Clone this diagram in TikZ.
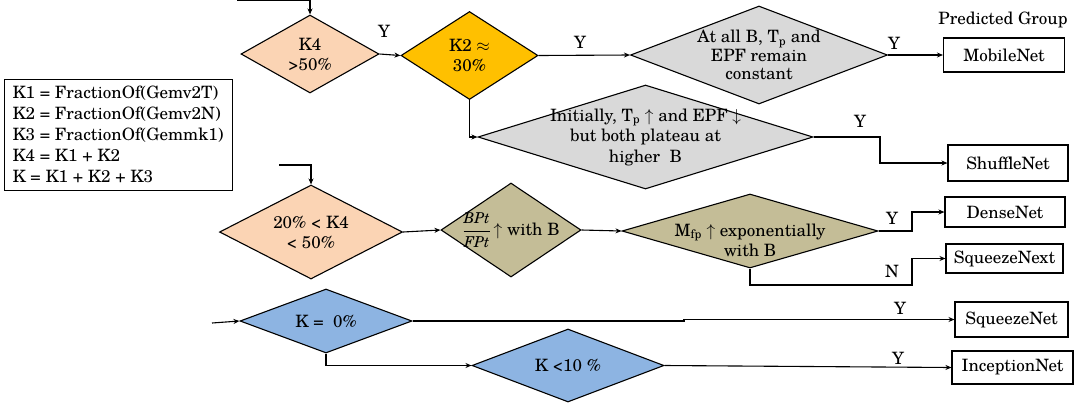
\documentclass[tikz,border=0pt]{standalone}
\usepackage{fontspec}
\setmainfont{TeX Gyre Schola}
\usetikzlibrary{shapes.geometric,arrows.meta}

\definecolor{peach}{HTML}{FBD4B4}
\definecolor{gold}{HTML}{FFC000}
\definecolor{lgray}{HTML}{D9D9D9}
\definecolor{khaki}{HTML}{C4BD97}
\definecolor{lblue}{HTML}{8DB4E2}

% italic piece of the stacked ratio
\newcommand{\fracpart}[1]{\mbox{\fontsize{15}{15}\selectfont\itshape #1}}

\tikzset{
  flow/.style={draw=black, line width=1.1pt, -{Stealth[length=6pt,width=5pt]}},
  dec/.style={diamond, draw=black, line width=1.1pt, inner sep=0pt},
  txt/.style={font=\fontsize{17}{20}\selectfont, align=center, inner sep=0pt},
  outbox/.style={draw=black, rectangle, line width=1.1pt, inner sep=0pt,
                 font=\fontsize{17}{20}\selectfont},
  yl/.style={font=\fontsize{17}{20}\selectfont, inner sep=0pt},
}

\begin{document}
\begin{tikzpicture}[x=1pt,y=-1pt]
\useasboundingbox (0,0) rectangle (1090,408);

% definitions of the kernel fractions
\node[draw=black, line width=0.9pt, minimum width=228pt, minimum height=111pt,
      inner sep=0pt, align=left,
      font=\fontsize{17}{21}\selectfont] (defs) at (118,134.5)
  {K1 = FractionOf(Gemv2T)\\K2 = FractionOf(Gemv2N)\\K3 = FractionOf(Gemmk1)\\K4 = K1 + K2\\K = K1 + K2 + K3};

% column header
\node[yl] (hdr) at (1003,20) {Predicted Group};

% ---------- first branch ----------
\coordinate (in1) at (237,0.8);
\node[dec, fill=peach, minimum width=138pt, minimum height=78pt,
      label={[txt]center:{K4\\>50\%}}] (k4) at (310,54) {};
\node[dec, fill=gold, minimum width=137pt, minimum height=88pt,
      label={[txt]center:{K2 $\approx$\\30\%}}] (k2) at (469.5,55.5) {};
\node[dec, fill=lgray, minimum width=257pt, minimum height=98pt,
      label={[txt, font=\fontsize{17}{18.5}\selectfont]center:{At all B, T\textsubscript{p} and\\EPF remain\\constant}}] (g1) at (759,55) {};
\node[outbox, minimum width=121pt, minimum height=34pt] (mob) at (1004,55) {MobileNet};
\node[dec, fill=lgray, minimum width=335pt, minimum height=104pt,
      label={[txt, font=\fontsize{17}{20.5}\selectfont]center:{Initially, T\textsubscript{p} $\uparrow$ and EPF~$\downarrow$\\but both plateau at\\higher~~B}}] (g2) at (645.5,137) {};
\node[outbox, minimum width=120pt, minimum height=36pt] (shuf) at (1008,163) {ShuffleNet};

\draw[flow] (in1) -| (k4.north);
\draw[flow] (k4.east) -- (k2.west);
\draw[flow] (k2.east) -- (g1.west);
\draw[flow] (g1.east) -- (mob.west);
\draw[flow] (k2.south) |- (g2.west);
\coordinate (b1) at (880,137);
\draw[flow] (g2.east) -- (b1) |- (shuf.west);

\node[yl] (y1) at (384,31) {Y};
\node[yl] (y2) at (580,42) {Y};
\node[yl] (y3) at (894,43) {Y};
\node[yl] (y4) at (860,121) {Y};

% ---------- second branch ----------
\coordinate (in2) at (279,165);
\node[dec, fill=peach, minimum width=183pt, minimum height=94pt,
      label={[txt]center:{20\% < K4\\< 50\%}}] (k4b) at (311,232) {};
\node[dec, fill=khaki, minimum width=140pt, minimum height=94pt,
      label={[txt]center:{$\displaystyle\frac{\fracpart{BPt}}{\fracpart{FPt}}$\,$\uparrow$ with B}}] (bpt) at (511,230) {};
\node[dec, fill=khaki, minimum width=256pt, minimum height=74pt] (mfp) at (750,231) {};
\node[txt] (mfpt) at (750,240) {M\textsubscript{fp} $\uparrow$ exponentially\\with B};
\node[outbox, minimum width=120pt, minimum height=30pt] (dense) at (1005,212) {DenseNet};
\node[outbox, minimum width=117pt, minimum height=29pt] (sqnx) at (1004.5,258.5) {SqueezeNext};

\draw[flow] (in2) -| (k4b.north);
\draw[flow] (k4b.east) -- (bpt.west);
\draw[flow] (bpt.east) -- (mfp.west);
\coordinate (b2) at (912,231);
\draw[flow] (mfp.east) -- (b2) |- (dense.west);
\coordinate (b3) at (750,285);
\coordinate (b4) at (912,285);
\draw[flow] (mfp.south) -- (b3) -- (b4) |- (sqnx.west);

\node[yl] (y5) at (892,218) {Y};
\node[yl] (n1) at (892,271) {N};

% ---------- third branch ----------
\coordinate (in3) at (212,323);
\node[dec, fill=lblue, minimum width=172pt, minimum height=64pt,
      label={[txt]center:{K =\ \ 0\%}}] (k0) at (326,321) {};
\node[dec, fill=lblue, minimum width=192pt, minimum height=73pt,
      label={[txt]center:{K <10 \%}}] (k10) at (568,365.5) {};
\node[outbox, minimum width=113pt, minimum height=35pt] (sqz) at (1011.5,319.5) {SqueezeNet};
\node[outbox, minimum width=121pt, minimum height=33pt] (inc) at (1012.5,367.5) {InceptionNet};

\draw[flow] (in3) -- (k0.west);
\coordinate (j1) at (684,321);
\coordinate (j2) at (684,319.5);
\draw[flow] (k0.east) -- (j1) -- (j2) -- (sqz.west);
\draw[flow] (k0.south) |- (k10.west);
\draw[flow] (k10.east) -- (inc.west);

\node[yl] (y6) at (900,308) {Y};
\node[yl] (y7) at (898,358) {Y};
\end{tikzpicture}
\end{document}
